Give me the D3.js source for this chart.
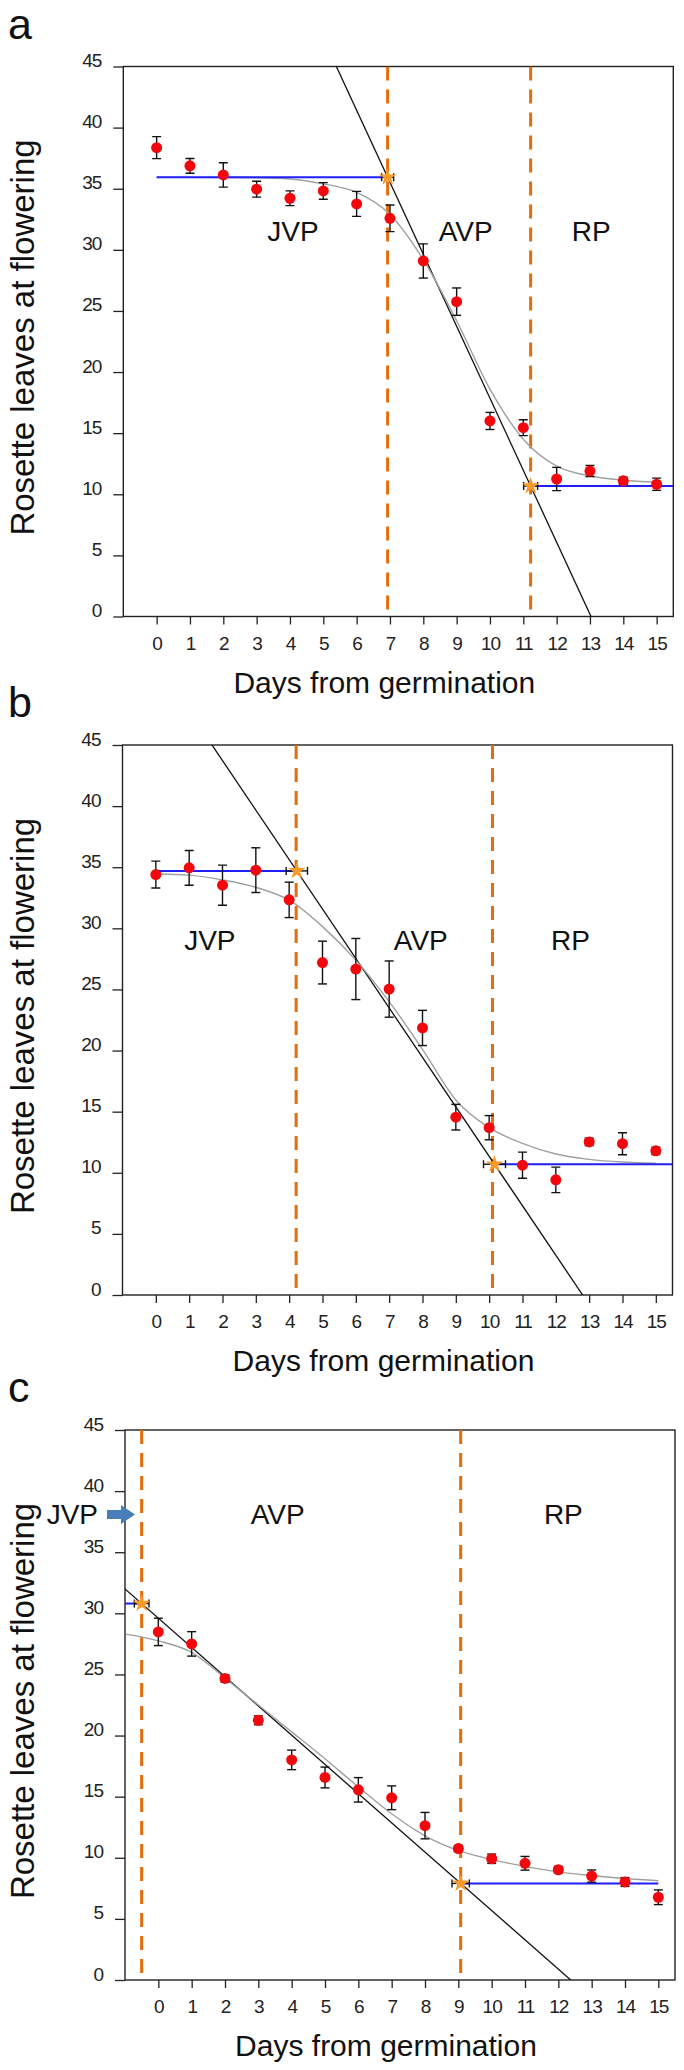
<!DOCTYPE html>
<html><head><meta charset="utf-8">
<script src="https://cdn.jsdelivr.net/npm/d3@7/dist/d3.min.js"></script>
<style>body{margin:0;background:#fff}svg{display:block}</style>
</head><body>
<svg id="chart" width="684" height="2070"></svg>
<script>
// ---------- DATA ----------
const days = [0,1,2,3,4,5,6,7,8,9,10,11,12,13,14,15];
const xTickLabels = ["0","1","2","3","4","5","6","7","8","9","10","11","12","13","14","15"];
const yTickValues = [0,5,10,15,20,25,30,35,40,45];
const regionLabels = ["JVP","AVP","RP"];
const xTitle = "Days from germination";
const yTitle = "Rosette leaves at flowering";
const panelLetters = ["a","b","c"];

// panel a
const leavesA = [38.36,36.87,36.13,34.96,34.22,34.82,33.76,32.58,29.09,25.76,16.0,15.45,11.25,11.9,11.1,10.82];
const semA    = [0.9,0.6,1.0,0.65,0.6,0.68,1.02,1.09,1.4,1.12,0.7,0.65,0.95,0.45,0.3,0.5];
const fitDaysA = [0,1,2,3,4,5,6,7,8,9,10,11,12,13,14,15];
const fitA    = [35.93,35.93,35.92,35.9,35.8,35.4,34.7,32.9,29.2,24.2,18.6,14.5,12.3,11.5,11.15,11.0];
const breakDaysA = [6.93,11.22];
const breakLeavesA = [35.94,10.67];
const breakSemA = [0.18,0.21];
const dashDaysA = [6.93,11.22];
const plateauStartA = [0,11.22];
const plateauEndA = [6.93,15.5];

// panel b
const leavesB = [34.4,34.95,33.53,34.76,32.33,27.2,26.67,25.03,21.85,14.55,13.69,10.62,9.42,12.52,12.38,11.8];
const semB    = [1.1,1.42,1.64,1.83,1.45,1.75,2.5,2.3,1.44,1.05,0.99,1.07,1.04,0.3,0.9,0.3];
const fitDaysB = [0,1,2,3,4,5,6,7,8,9,10,11,12,13,14,15];
const fitB    = [34.45,34.35,33.96,33.36,32.3,30.14,27.4,24.0,20.1,15.96,13.69,12.41,11.54,11.1,10.88,10.78];
const breakDaysB = [4.23,10.16];
const breakLeavesB = [34.7,10.7];
const breakSemB = [0.32,0.33];
const dashDaysB = [4.21,10.1];
const plateauStartB = [0,10.16];
const plateauEndB = [4.23,15.5];

// panel c
const leavesC = [28.48,27.5,24.67,21.25,18.01,16.57,15.56,14.91,12.63,10.75,9.92,9.55,9.02,8.5,8.02,6.77];
const semC    = [1.12,1.0,0.3,0.36,0.8,0.85,1.0,0.97,1.08,0.25,0.38,0.56,0.27,0.5,0.36,0.6];
const fitDaysC = [-0.98,0,1,2,3,4,5,6,7,8,9,10,11,12,13,14,15];
const fitC    = [28.3,27.75,26.8,24.7,22.5,20.3,18.1,15.8,13.6,11.8,10.6,9.85,9.3,8.85,8.55,8.3,8.12];
const breakDaysC = [-0.5,9.07];
const breakLeavesC = [30.8,7.9];
const breakSemC = [0.22,0.26];
const dashDaysC = [-0.5,9.07];
const plateauStartC = [-1,9.07];
const plateauEndC = [-0.5,15];

// ---------- LAYOUT ----------
const xDomain = [-1, 15.5];
const yDomain = [0, 45];
const panels = [
  {letter:panelLetters[0], left:123.3, top:66.5, size:550,
   leaves:leavesA, sem:semA, fitX:fitDaysA, fit:fitA, bx:breakDaysA, by:breakLeavesA, bs:breakSemA,
   dash:dashDaysA, ps:plateauStartA, pe:plateauEndA,
   labels:[{t:0,x:4.09,y:30.7},{t:1,x:9.27,y:30.7},{t:2,x:13.04,y:30.7}]},
  {letter:panelLetters[1], left:122.5, top:745, size:550,
   leaves:leavesB, sem:semB, fitX:fitDaysB, fit:fitB, bx:breakDaysB, by:breakLeavesB, bs:breakSemB,
   dash:dashDaysB, ps:plateauStartB, pe:plateauEndB,
   labels:[{t:0,x:1.62,y:28.2},{t:1,x:7.95,y:28.2},{t:2,x:12.44,y:28.2}]},
  {letter:panelLetters[2], left:125, top:1430, size:550,
   leaves:leavesC, sem:semC, fitX:fitDaysC, fit:fitC, bx:breakDaysC, by:breakLeavesC, bs:breakSemC,
   dash:dashDaysC, ps:plateauStartC, pe:plateauEndC,
   labels:[{t:1,x:3.58,y:37.3},{t:2,x:12.15,y:37.3}], arrow:true}
];

const svg = d3.select("#chart");
const FONT = "Liberation Sans, Arial, Helvetica, sans-serif";

panels.forEach((p, i) => {
  const x = d3.scaleLinear().domain(xDomain).range([p.left, p.left + p.size]);
  const y = d3.scaleLinear().domain(yDomain).range([p.top + p.size, p.top]);
  const g = svg.append("g");
  const clipId = "clip" + i;
  svg.append("clipPath").attr("id", clipId).append("rect")
    .attr("x", p.left).attr("y", p.top).attr("width", p.size).attr("height", p.size);

  // frame
  g.append("rect").attr("x", p.left).attr("y", p.top).attr("width", p.size).attr("height", p.size)
    .attr("fill", "none").attr("stroke", "#222").attr("stroke-width", 1.4);

  // y axis
  const yAxis = d3.axisLeft(y).tickValues(yTickValues).tickSize(10).tickPadding(12);
  const ya = g.append("g").attr("transform", `translate(${p.left},0)`).call(yAxis);
  ya.select(".domain").remove();
  ya.selectAll("line").attr("stroke", "#222").attr("stroke-width", 1.3);
  ya.selectAll("text").attr("font-family", FONT).attr("font-size", 19).attr("fill", "#222")
    .attr("dy", "0").attr("x", -22).attr("letter-spacing", "-1");

  // x axis
  const xAxis = d3.axisBottom(x).tickValues(days).tickFormat((d, j) => xTickLabels[j]).tickSize(8).tickPadding(10);
  const xa = g.append("g").attr("transform", `translate(0,${p.top + p.size})`).call(xAxis);
  xa.select(".domain").remove();
  xa.selectAll("line").attr("stroke", "#222").attr("stroke-width", 1.3);
  xa.selectAll("text").attr("font-family", FONT).attr("font-size", 19).attr("fill", "#222")
    .attr("dy", "0").attr("y", 33).attr("letter-spacing", "-1");

  // titles
  g.append("text").attr("x", p.left + 261).attr("y", p.top + p.size + 76)
    .attr("text-anchor", "middle").attr("font-family", FONT).attr("font-size", 30).attr("fill", "#111").text(xTitle);
  g.append("text").attr("transform", `translate(34,${p.top + p.size / 2 - 4}) rotate(-90)`)
    .attr("text-anchor", "middle").attr("font-family", FONT).attr("font-size", 33).attr("fill", "#111").text(yTitle);
  g.append("text").attr("x", 8).attr("y", p.top - 28)
    .attr("font-family", FONT).attr("font-size", 43).attr("fill", "#111").text(p.letter);

  const inner = g.append("g").attr("clip-path", `url(#${clipId})`);

  // orange dashed breakpoints
  inner.selectAll(".dash").data(p.dash).join("line")
    .attr("x1", d => x(d)).attr("x2", d => x(d)).attr("y1", y(45)).attr("y2", y(0))
    .attr("stroke", "#e46c0a").attr("stroke-width", 3).attr("stroke-dasharray", "14,9");

  // regression line through breakpoints
  const slope = (p.by[1] - p.by[0]) / (p.bx[1] - p.bx[0]);
  const lineAt = d => p.by[0] + slope * (d - p.bx[0]);
  inner.append("line")
    .attr("x1", x(xDomain[0])).attr("y1", y(lineAt(xDomain[0])))
    .attr("x2", x(xDomain[1])).attr("y2", y(lineAt(xDomain[1])))
    .attr("stroke", "#111").attr("stroke-width", 1.3);

  // sigmoid fit
  const fitLine = d3.line().x((d, j) => x(p.fitX[j])).y(d => y(d)).curve(d3.curveMonotoneX);
  inner.append("path").datum(p.fit).attr("d", fitLine)
    .attr("fill", "none").attr("stroke", "#a0a0a0").attr("stroke-width", 1.4);

  // plateau lines
  inner.selectAll(".plat").data(p.ps).join("line")
    .attr("x1", d => x(d)).attr("x2", (d, j) => x(p.pe[j]))
    .attr("y1", (d, j) => y(p.by[j])).attr("y2", (d, j) => y(p.by[j]))
    .attr("stroke", "#1f1ff5").attr("stroke-width", 2);

  // error bars on points
  const eb = inner.append("g").attr("stroke", "#111").attr("stroke-width", 1.4);
  days.forEach((d, j) => {
    const cx = x(d), y1 = y(p.leaves[j] + p.sem[j]), y2 = y(p.leaves[j] - p.sem[j]);
    eb.append("line").attr("x1", cx).attr("x2", cx).attr("y1", y1).attr("y2", y2);
    eb.append("line").attr("x1", cx - 4.5).attr("x2", cx + 4.5).attr("y1", y1).attr("y2", y1);
    eb.append("line").attr("x1", cx - 4.5).attr("x2", cx + 4.5).attr("y1", y2).attr("y2", y2);
  });
  inner.selectAll(".pt").data(p.leaves).join("circle")
    .attr("cx", (d, j) => x(days[j])).attr("cy", d => y(d)).attr("r", 5.5).attr("fill", "#f2080c");

  // breakpoint horizontal error bars and stars
  const sb = inner.append("g").attr("stroke", "#111").attr("stroke-width", 1.4);
  p.bx.forEach((d, j) => {
    const cy = y(p.by[j]), xa1 = x(d - p.bs[j]), xa2 = x(d + p.bs[j]);
    sb.append("line").attr("x1", xa1).attr("x2", xa2).attr("y1", cy).attr("y2", cy);
    sb.append("line").attr("x1", xa1).attr("x2", xa1).attr("y1", cy - 4).attr("y2", cy + 4);
    sb.append("line").attr("x1", xa2).attr("x2", xa2).attr("y1", cy - 4).attr("y2", cy + 4);
  });
  inner.selectAll(".star").data(p.bx).join("path")
    .attr("d", d3.symbol().type(d3.symbolStar).size(95))
    .attr("transform", (d, j) => `translate(${x(d)},${y(p.by[j])})`)
    .attr("fill", "#f79a2a");

  // region labels
  g.selectAll(".rl").data(p.labels).join("text")
    .attr("x", d => x(d.x)).attr("y", d => y(d.y)).attr("text-anchor", "middle")
    .attr("font-family", FONT).attr("font-size", 28).attr("fill", "#111").text(d => regionLabels[d.t]);

  if (p.arrow) {
    const by = y(37.3);
    g.append("text").attr("x", 98).attr("y", by).attr("text-anchor", "end")
      .attr("font-family", FONT).attr("font-size", 28).attr("fill", "#111").text(regionLabels[0]);
    const tipX = p.left + 10, cy = by - 9.5;
    g.append("path")
      .attr("d", `M${tipX - 28},${cy - 4.5} L${tipX - 14},${cy - 4.5} L${tipX - 14},${cy - 9.5} L${tipX},${cy} L${tipX - 14},${cy + 9.5} L${tipX - 14},${cy + 4.5} L${tipX - 28},${cy + 4.5} Z`)
      .attr("fill", "#4a7ebb");
  }
});
</script>
</body></html>
